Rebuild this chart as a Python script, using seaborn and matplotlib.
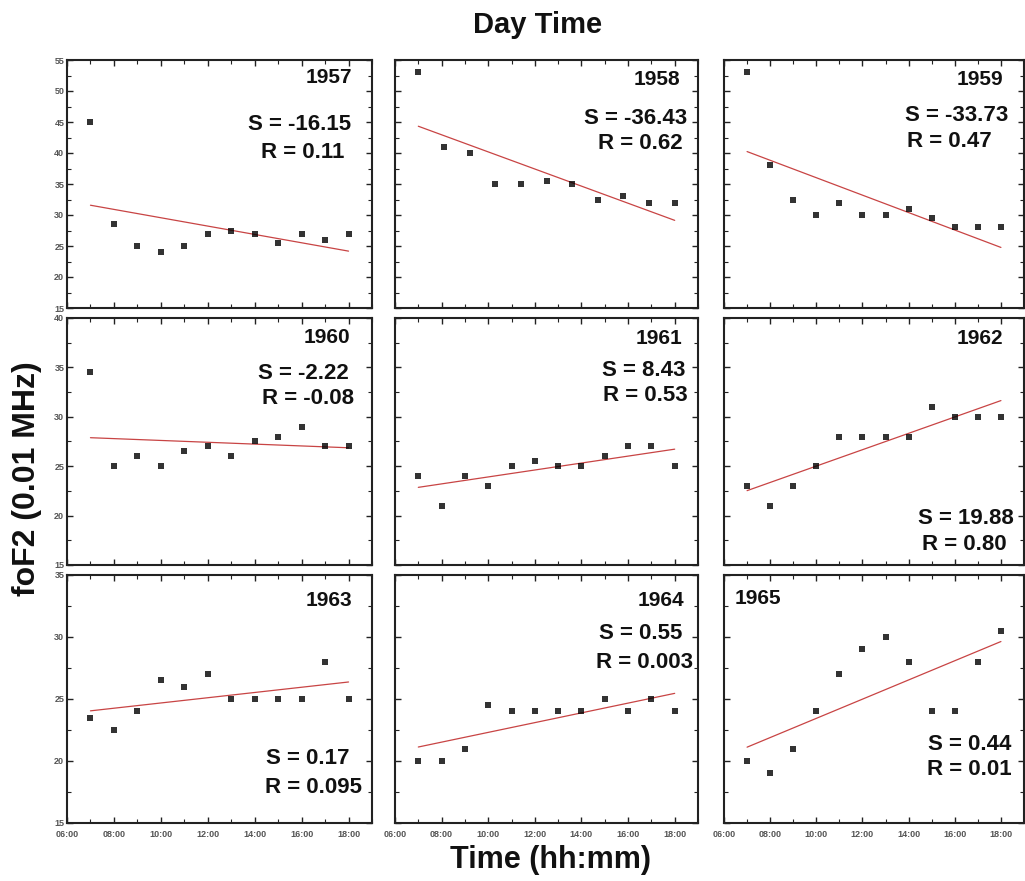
import matplotlib
matplotlib.use("Agg")
import matplotlib.pyplot as plt
import seaborn as sns
import pandas as pd
from matplotlib.ticker import FixedLocator, MultipleLocator

sns.set_theme(style="white")
plt.rcParams['font.family'] = ['Liberation Sans', 'DejaVu Sans']

# ---------------- data ----------------
years = ["1957", "1958", "1959", "1960", "1961", "1962", "1963", "1964", "1965"]
hours12 = [7, 8, 9, 10, 11, 12, 13, 14, 15, 16, 17, 18]
hours11 = [7, 8.1, 9.2, 10.3, 11.4, 12.5, 13.6, 14.7, 15.8, 16.9, 18]

fof2_1957 = [45, 28.5, 25, 24, 25, 27, 27.5, 27, 25.5, 27, 26, 27]
fof2_1958 = [53, 41, 40, 35, 35, 35.5, 35, 32.5, 33, 32, 32]
fof2_1959 = [53, 38, 32.5, 30, 32, 30, 30, 31, 29.5, 28, 28, 28]
fof2_1960 = [34.5, 25, 26, 25, 26.5, 27, 26, 27.5, 28, 29, 27, 27]
fof2_1961 = [24, 21, 24, 23, 25, 25.5, 25, 25, 26, 27, 27, 25]
fof2_1962 = [23, 21, 23, 25, 28, 28, 28, 28, 31, 30, 30, 30]
fof2_1963 = [23.5, 22.5, 24, 26.5, 26, 27, 25, 25, 25, 25, 28, 25]
fof2_1964 = [20, 20, 21, 24.5, 24, 24, 24, 24, 25, 24, 25, 24]
fof2_1965 = [20, 19, 21, 24, 27, 29, 30, 28, 24, 24, 28, 30.5]

slopes = ["S = -16.15", "S = -36.43", "S = -33.73", "S = -2.22", "S = 8.43",
          "S = 19.88", "S = 0.17", "S = 0.55", "S = 0.44"]
rvals = ["R = 0.11", "R = 0.62", "R = 0.47", "R = -0.08", "R = 0.53",
         "R = 0.80", "R = 0.095", "R = 0.003", "R = 0.01"]

xtick_vals = [6, 8, 10, 12, 14, 16, 18]
xtick_labels = ["06:00", "08:00", "10:00", "12:00", "14:00", "16:00", "18:00"]
row_ylims = [(15, 55), (15, 40), (15, 35)]

series = [
    (hours12, fof2_1957), (hours11, fof2_1958), (hours12, fof2_1959),
    (hours12, fof2_1960), (hours12, fof2_1961), (hours12, fof2_1962),
    (hours12, fof2_1963), (hours12, fof2_1964), (hours12, fof2_1965),
]

# ---------------- layout (pixels) ----------------
W, H = 1025, 881
fig = plt.figure(figsize=(W / 100, H / 100), dpi=100)
fig.patch.set_facecolor("white")

col_x = [(67, 305), (395, 303), (724, 300)]
row_y = [(60, 248), (318, 247), (575, 248)]

# annotation positions (axes fraction): year (x, y, ha), S (x, y), R (x, y)
year_pos = [(0.934, 0.93, "right"), (0.94, 0.923, "right"), (0.93, 0.923, "right"),
            (0.928, 0.923, "right"), (0.947, 0.915, "right"), (0.93, 0.919, "right"),
            (0.934, 0.899, "right"), (0.954, 0.899, "right"), (0.037, 0.907, "left")]
s_pos = [(0.764, 0.738), (0.795, 0.766), (0.774, 0.778),
         (0.774, 0.777), (0.822, 0.789), (0.807, 0.19),
         (0.79, 0.262), (0.811, 0.766), (0.82, 0.315)]
r_pos = [(0.774, 0.629), (0.81, 0.665), (0.75, 0.673),
         (0.79, 0.676), (0.825, 0.688), (0.80, 0.081),
         (0.807, 0.145), (0.825, 0.649), (0.817, 0.214)]

tick_color = "#555555"

for i, (xs, ys) in enumerate(series):
    r, c = divmod(i, 3)
    x0, w = col_x[c]
    y0, h = row_y[r]
    ax = fig.add_axes([x0 / W, 1 - (y0 + h) / H, w / W, h / H])
    df = pd.DataFrame({"time": xs, "fof2": ys})
    sns.regplot(data=df, x="time", y="fof2", ax=ax, ci=None, truncate=True,
                marker="s",
                scatter_kws={"s": 20, "color": "black", "linewidths": 0, "zorder": 3},
                line_kws={"color": "#c84444", "lw": 0.9, "zorder": 2})
    ax.set_xlim(6, 19)
    ax.set_ylim(*row_ylims[r])
    ax.set_xlabel("")
    ax.set_ylabel("")
    ax.xaxis.set_major_locator(FixedLocator(xtick_vals))
    ax.xaxis.set_minor_locator(MultipleLocator(1))
    ax.yaxis.set_major_locator(MultipleLocator(5))
    ax.yaxis.set_minor_locator(MultipleLocator(2.5))
    ax.tick_params(which="both", direction="in", top=True, right=True,
                   bottom=True, left=True, color="#222222")
    ax.tick_params(which="major", length=4, width=1.0, pad=2,
                   labelsize=6.5, labelcolor=tick_color)
    ax.tick_params(axis="x", which="major", pad=5)
    ax.tick_params(which="minor", length=3, width=0.8)
    if r == 2:
        ax.set_xticklabels(xtick_labels, fontweight="bold")
    else:
        ax.set_xticklabels([])
    if c == 0:
        ax.set_yticklabels([f"{int(v)}" for v in ax.get_yticks()], fontweight="bold")
    else:
        ax.set_yticklabels([])
    for sp in ax.spines.values():
        sp.set_visible(True)
        sp.set_linewidth(1.5)
        sp.set_color("#222222")

    yx, yy, yha = year_pos[i]
    ax.text(yx, yy, years[i], transform=ax.transAxes, ha=yha, va="center",
            fontsize=15, fontweight="bold", color="#111111")
    ax.text(s_pos[i][0], s_pos[i][1], slopes[i], transform=ax.transAxes,
            ha="center", va="center", fontsize=16, fontweight="bold", color="#111111")
    ax.text(r_pos[i][0], r_pos[i][1], rvals[i], transform=ax.transAxes,
            ha="center", va="center", fontsize=16, fontweight="bold", color="#111111")

fig.text(538 / W, 1 - 25 / H, "Day Time", ha="center", va="center",
         fontsize=21, fontweight="bold", color="#111111")
fig.text(551 / W, 1 - 860 / H, "Time (hh:mm)", ha="center", va="center",
         fontsize=22, fontweight="bold", color="#111111")
fig.text(27 / W, 1 - 479 / H, "foF2 (0.01 MHz)", ha="center", va="center",
         rotation=90, fontsize=23, fontweight="bold", color="#111111")

fig.savefig("out.png", dpi=100, facecolor="white")
